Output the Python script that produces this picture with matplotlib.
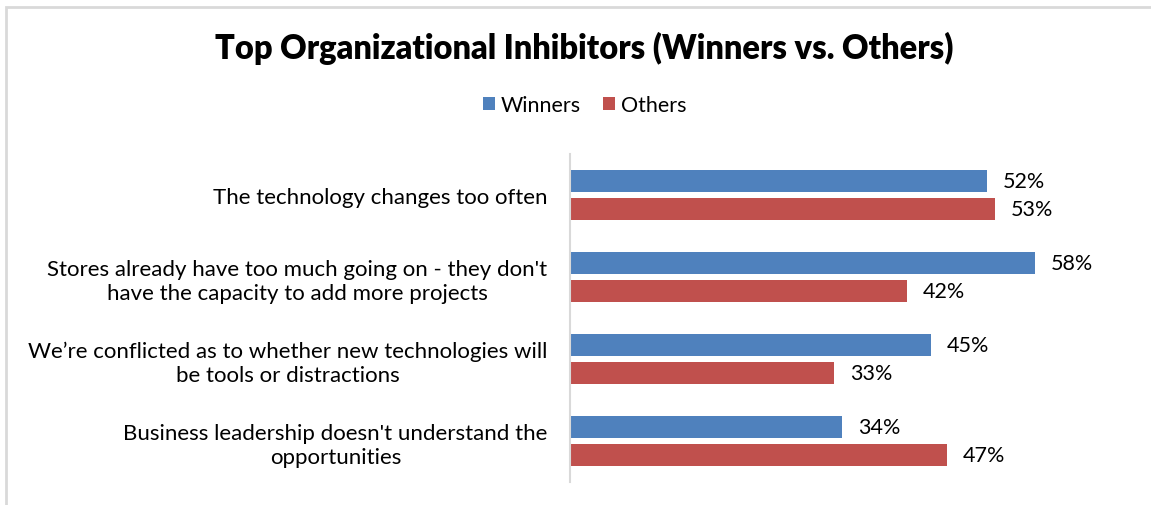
import matplotlib.pyplot as plt
import numpy as np
from matplotlib.patches import Rectangle

# Data
categories = [
    "The technology changes too often",
    "Stores already have too much going on - they don't\nhave the capacity to add more projects",
    "We\u2019re conflicted as to whether new technologies will\nbe tools or distractions",
    "Business leadership doesn't understand the\nopportunities",
]
winners = [52, 58, 45, 34]
others = [53, 42, 33, 47]

blue = "#4F81BD"
red = "#C0504D"

plt.rcParams['font.family'] = ['Lato', 'DejaVu Sans']

fig = plt.figure(figsize=(11.51, 5.06), dpi=100)
ax = fig.add_axes([0.495, 0.045, 0.418, 0.649])

# chart frame (runs off the right and bottom edges)
fig.patches.append(Rectangle((6 / 1151, -0.1), 1.2, 1 - 8 / 506 + 0.1, transform=fig.transFigure,
                             fill=False, edgecolor="#d9d9d9", linewidth=2))

y = np.arange(len(categories))
h = 0.27
off = 0.17
b1 = ax.barh(y - off, winners, height=h, color=blue, label="Winners")
b2 = ax.barh(y + off, others, height=h, color=red, label="Others")

for rect, v in zip(b1, winners):
    ax.text(v + 2, rect.get_y() + rect.get_height() / 2, f"{v}%", va="center", ha="left",
            fontsize=15.5, clip_on=False)
for rect, v in zip(b2, others):
    ax.text(v + 2, rect.get_y() + rect.get_height() / 2, f"{v}%", va="center", ha="left",
            fontsize=15.5, clip_on=False)

ax.set_xlim(0, 60)
ax.set_ylim(len(categories) - 0.5, -0.5)
ax.set_xticks([])
ax.set_yticks(y)
ax.set_yticklabels(categories, fontsize=16, multialignment="center", linespacing=1.25)
ax.tick_params(axis="y", length=0, pad=16)
for s in ["top", "right", "bottom"]:
    ax.spines[s].set_visible(False)
ax.spines["left"].set_color("#d9d9d9")
ax.spines["left"].set_linewidth(1.5)

fig.text(0.508, 0.905, "Top Organizational Inhibitors (Winners vs. Others)", ha="center", va="center",
         fontsize=23.5, fontweight="heavy")
fig.legend(handles=[b1, b2], loc="center", bbox_to_anchor=(0.508, 0.79), ncol=2, frameon=False,
           fontsize=15.5, handlelength=0.55, handleheight=0.55, handletextpad=0.3, columnspacing=1.0)

fig.savefig("out.png", dpi=100)
